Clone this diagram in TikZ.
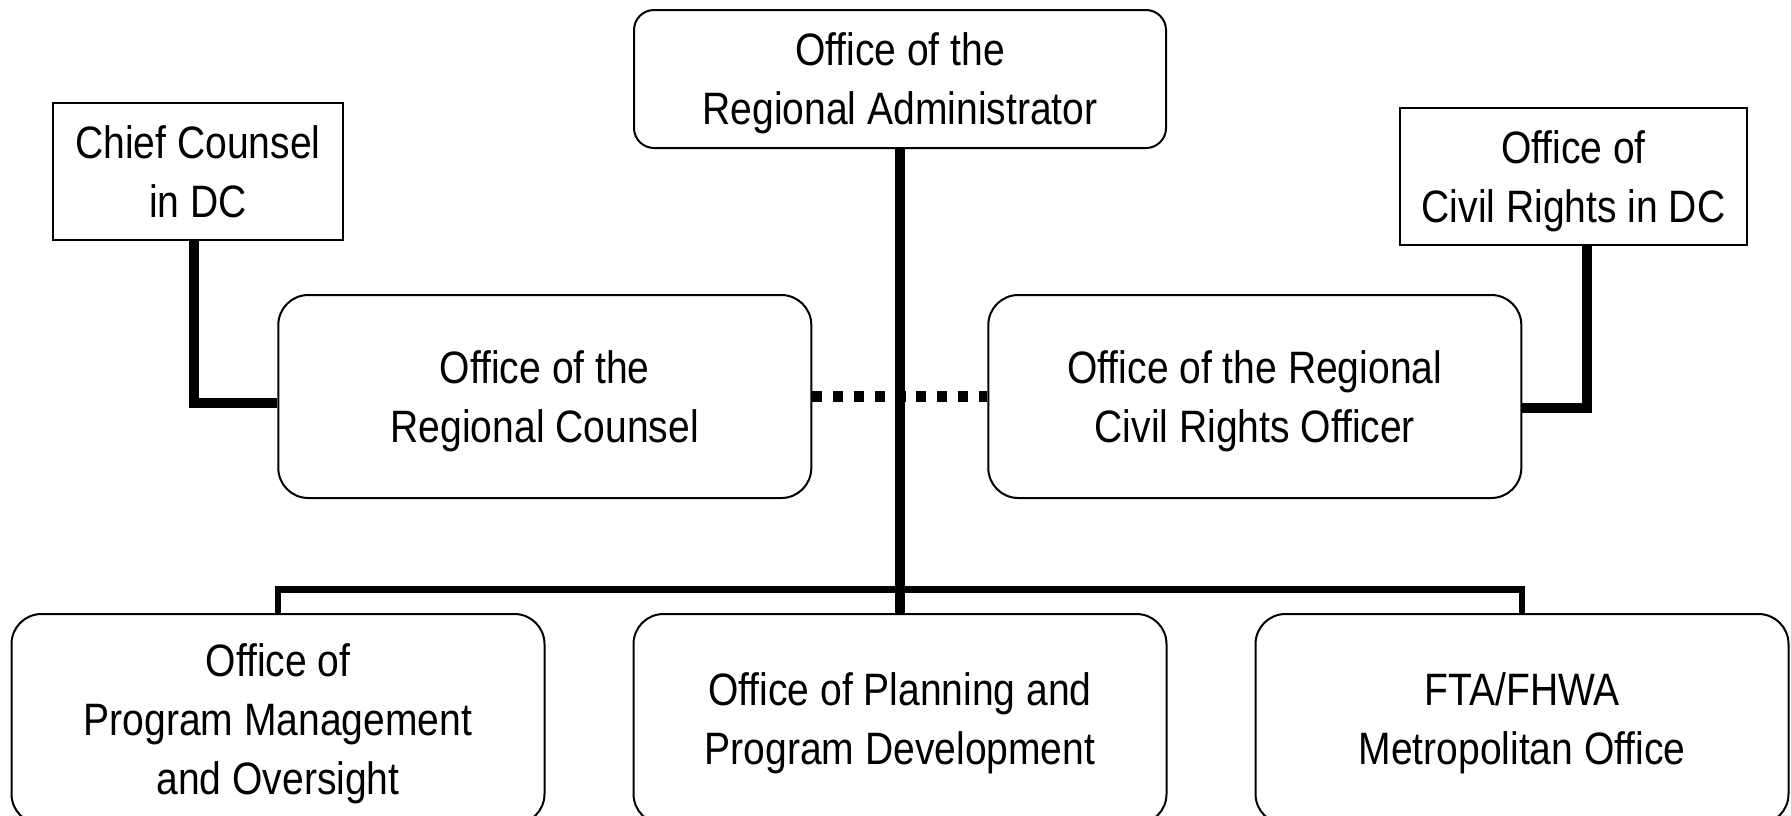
\documentclass[tikz,border=0pt]{standalone}
\usepackage{fontspec}
\setmainfont{Liberation Sans}[FakeStretch=0.86]
\usetikzlibrary{positioning}

\begin{document}
\begin{tikzpicture}[node distance=2cm,on grid,
    office/.style={draw,line width=1pt,rounded corners=15pt,align=center,
        inner sep=0pt,minimum width=266.5pt,minimum height=101.5pt,text depth=-1.5pt,
        font=\fontsize{22.7pt}{29.5pt}\selectfont},
    topoffice/.style={office,rounded corners=10pt,minimum width=266pt,minimum height=69pt},
    lowoffice/.style={office,minimum height=105pt},
    dcbox/.style={office,sharp corners,minimum width=145pt,minimum height=68.5pt},
    trunk/.style={line width=5pt},
    bus/.style={line width=3.25pt},
    dotlink/.style={line width=5.25pt,dash pattern=on 5pt off 5.4pt}]
   \useasboundingbox (0,0) rectangle (895.5pt,-407.5pt);
   \clip (0,0) rectangle (895.5pt,-407.5pt);
   \node[topoffice] (r_admin) at (450pt,-39.5pt) {Office of the\\Regional Administrator};
   \node[office] (r_counsel) [below left=158.75pt and 177.6pt of r_admin] {Office of the\\Regional Counsel};
   \node[office] (r_civil) [below right=158.75pt and 177.4pt of r_admin] {Office of the Regional\\Civil Rights Officer};
   \node[dcbox] (d_counsel) [above left=112.5pt and 173.4pt of r_counsel] {Chief Counsel\\in DC};
   \node[dcbox,minimum width=173.5pt] (d_civil) [above right=110pt and 159.35pt of r_civil] {Office of\\Civil Rights in DC};
   \node[lowoffice] (b_ppd) [below=320pt of r_admin] {Office of Planning and\\Program Development};
   \node[lowoffice] (b_pmo) [left=311pt of b_ppd] {Office of\\Program Management\\and Oversight};
   \node[lowoffice] (b_metro) [right=311pt of b_ppd] {FTA/FHWA\\Metropolitan Office};

   \draw[dotlink] (r_counsel.east) -- (r_civil.west);
   \draw[trunk] (r_admin.south) -- (r_admin.south |- b_ppd.north);
   \draw[bus] (b_pmo.north) -- ++(0,11.75pt) -| (b_metro.north);
   \draw[trunk] ([xshift=-2pt]d_counsel.south) |- ([yshift=-3pt]r_counsel.west);
   \draw[trunk] ([xshift=6.75pt]d_civil.south) |- ([yshift=-5.5pt]r_civil.east);
\end{tikzpicture}
\end{document}
